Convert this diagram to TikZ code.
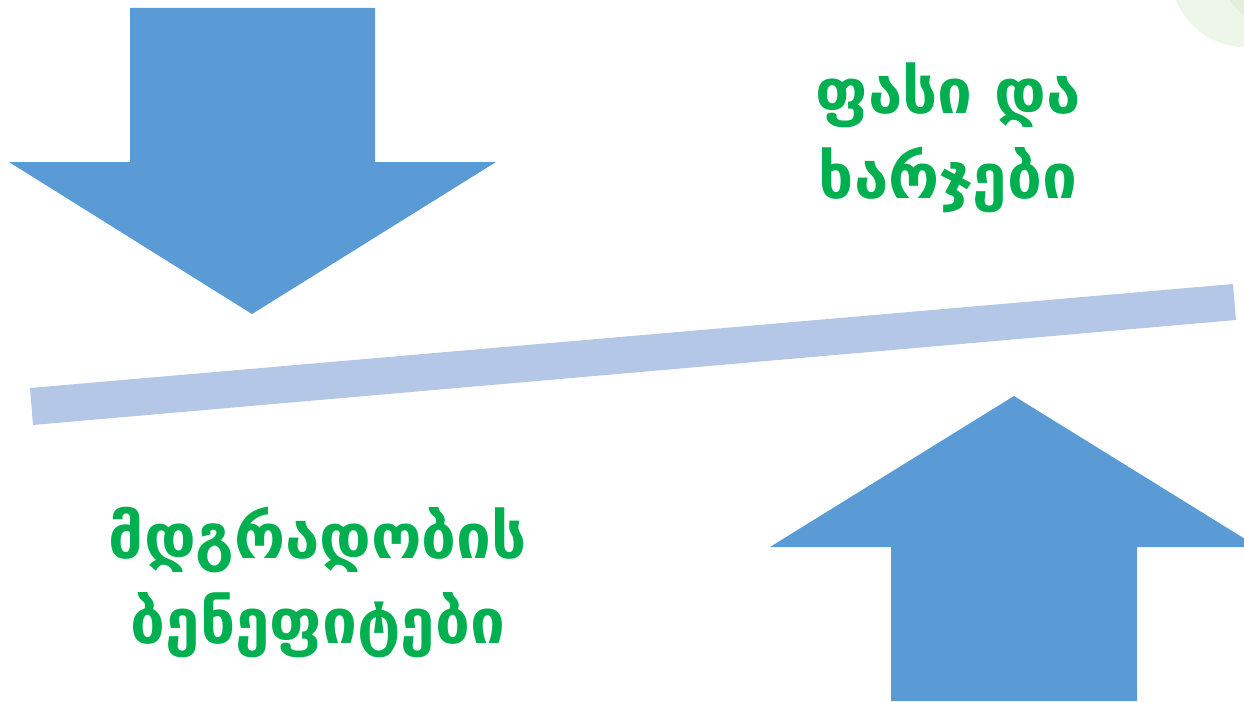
\documentclass[tikz,border=0pt]{standalone}
\usepackage{fontspec}
\newfontfamily\geofont{DejaVu Sans}
\definecolor{arrowblue}{HTML}{5B9BD5}
\definecolor{beamblue}{HTML}{B4C7E7}
\definecolor{txtgreen}{HTML}{00B050}
\definecolor{paleg}{HTML}{EEF5E9}
\definecolor{paleg2}{HTML}{E3EDD9}
\begin{document}
\begin{tikzpicture}[x=1pt,y=-1pt,
  label/.style={text=txtgreen,font=\geofont\bfseries\fontsize{62}{85}\selectfont,align=center,inner sep=0pt}]
\useasboundingbox (0,0) rectangle (1244,701);
\begin{scope}
\clip (0,0) rectangle (1244,701);
\fill[paleg] (1245,-27) circle (74);
\fill[paleg2] (1292,-42) circle (75);
\end{scope}
% top arrow (down)
\fill[arrowblue] (130,8) -- (375,8) -- (375,162) -- (496,162) -- (252,314) -- (9,162) -- (130,162) -- cycle;
% beam
\fill[beamblue] (30,388) -- (1233,284) -- (1236,320) -- (33,425) -- cycle;
% bottom arrow (up)
\fill[arrowblue] (891,701) -- (891,547) -- (770,547) -- (1014,396) -- (1258,547) -- (1137,547) -- (1137,701) -- cycle;
\node[label] (cost) at (948,138) {ფასი და\\ხარჯები};
\node[label] (benefit) at (318,582) {მდგრადობის\\ბენეფიტები};
\end{tikzpicture}
\end{document}
